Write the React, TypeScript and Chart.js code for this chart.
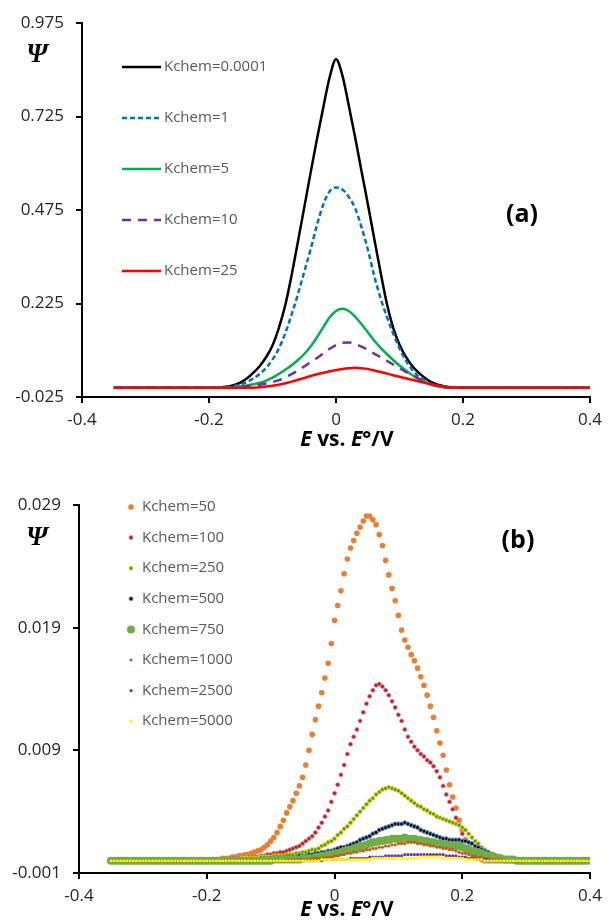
import React, { useEffect, useRef } from "react";
import { Chart, registerables } from "chart.js";
Chart.register(...registerables);

const FONT = "'Open Sans', sans-serif";

// ---------- Top chart (a) ----------
const E_TOP = [
  -0.35, -0.3, -0.25,
  -0.2, -0.19, -0.18, -0.17, -0.16, -0.15, -0.14, -0.13, -0.12, -0.11,
  -0.1, -0.09, -0.08, -0.07, -0.06, -0.05, -0.04, -0.03, -0.02, -0.01,
  0, 0.01, 0.02, 0.03, 0.04, 0.05, 0.06, 0.07, 0.08, 0.09,
  0.1, 0.11, 0.12, 0.13, 0.14, 0.15, 0.16, 0.17, 0.18, 0.19, 0.2,
  0.25, 0.3, 0.35, 0.4,
];
const TOP_LABELS = ["Kchem=0.0001", "Kchem=1", "Kchem=5", "Kchem=10", "Kchem=25"];
const PSI_K0001 = [
  0, 0, 0,
  0, 0, 0.001, 0.003, 0.007, 0.014, 0.025, 0.04, 0.058, 0.082,
  0.113, 0.16, 0.22, 0.3, 0.39, 0.482, 0.575, 0.665, 0.75, 0.83,
  0.878, 0.835, 0.755, 0.67, 0.58, 0.492, 0.4, 0.31, 0.225, 0.16,
  0.115, 0.082, 0.058, 0.04, 0.026, 0.015, 0.008, 0.004, 0.001, 0, 0,
  0, 0, 0, 0,
];
const PSI_K1 = [
  0, 0, 0,
  0, 0, 0.001, 0.002, 0.005, 0.009, 0.015, 0.025, 0.037, 0.053,
  0.075, 0.105, 0.145, 0.195, 0.25, 0.31, 0.37, 0.435, 0.49, 0.525,
  0.535, 0.53, 0.51, 0.48, 0.43, 0.37, 0.3, 0.24, 0.19, 0.145,
  0.105, 0.072, 0.048, 0.03, 0.018, 0.01, 0.005, 0.002, 0, 0, 0,
  0, 0, 0, 0,
];
const PSI_K5 = [
  0, 0, 0,
  0, 0, 0, 0.001, 0.002, 0.004, 0.006, 0.009, 0.013, 0.019,
  0.027, 0.037, 0.048, 0.06, 0.074, 0.09, 0.11, 0.135, 0.162, 0.188,
  0.205, 0.211, 0.205, 0.19, 0.17, 0.148, 0.126, 0.107, 0.09, 0.074,
  0.059, 0.046, 0.034, 0.024, 0.015, 0.008, 0.004, 0.001, 0, 0, 0,
  0, 0, 0, 0,
];
const PSI_K10 = [
  0, 0, 0,
  0, 0, 0, 0, 0.001, 0.002, 0.004, 0.006, 0.008, 0.011,
  0.015, 0.02, 0.027, 0.036, 0.046, 0.057, 0.068, 0.079, 0.092, 0.104,
  0.114, 0.12, 0.121, 0.117, 0.11, 0.101, 0.091, 0.082, 0.072, 0.062,
  0.052, 0.042, 0.033, 0.024, 0.016, 0.009, 0.004, 0.001, 0, 0, 0,
  0, 0, 0, 0,
];
const PSI_K25 = [
  0, 0, 0,
  0, 0, 0, 0, 0, 0, 0, 0, 0.001, 0.003,
  0.005, 0.008, 0.012, 0.016, 0.021, 0.026, 0.031, 0.036, 0.04, 0.044,
  0.047, 0.05, 0.052, 0.053, 0.052, 0.05, 0.046, 0.042, 0.038, 0.033,
  0.029, 0.025, 0.021, 0.017, 0.013, 0.009, 0.006, 0.003, 0.001, 0, 0,
  0, 0, 0, 0,
];
const TOP_Y_TICKS = [-0.025, 0.225, 0.475, 0.725, 0.975];
const TOP_Y_TICK_LABELS = ["-0.025", "0.225", "0.475", "0.725", "0.975"];
const X_TICKS = [-0.4, -0.2, 0, 0.2, 0.4];
const X_TICK_LABELS = ["-0.4", "-0.2", "0", "0.2", "0.4"];

// ---------- Bottom chart (b) ----------
const E_BOTTOM = [
  -0.35, -0.345, -0.34, -0.335, -0.33, -0.325, -0.32, -0.315, -0.31, -0.305,
  -0.3, -0.295, -0.29, -0.285, -0.28, -0.275, -0.27, -0.265, -0.26, -0.255,
  -0.25, -0.245, -0.24, -0.235, -0.23, -0.225, -0.22, -0.215, -0.21, -0.205,
  -0.2, -0.195, -0.19, -0.185, -0.18, -0.175, -0.17, -0.165, -0.16, -0.155,
  -0.15, -0.145, -0.14, -0.135, -0.13, -0.125, -0.12, -0.115, -0.11, -0.105,
  -0.1, -0.095, -0.09, -0.085, -0.08, -0.075, -0.07, -0.065, -0.06, -0.055,
  -0.05, -0.045, -0.04, -0.035, -0.03, -0.025, -0.02, -0.015, -0.01, -0.005,
  0, 0.005, 0.01, 0.015, 0.02, 0.025, 0.03, 0.035, 0.04, 0.045,
  0.05, 0.055, 0.06, 0.065, 0.07, 0.075, 0.08, 0.085, 0.09, 0.095,
  0.1, 0.105, 0.11, 0.115, 0.12, 0.125, 0.13, 0.135, 0.14, 0.145,
  0.15, 0.155, 0.16, 0.165, 0.17, 0.175, 0.18, 0.185, 0.19, 0.195,
  0.2, 0.205, 0.21, 0.215, 0.22, 0.225, 0.23, 0.235, 0.24, 0.245,
  0.25, 0.255, 0.26, 0.265, 0.27, 0.275, 0.28, 0.285, 0.29, 0.295,
  0.3, 0.305, 0.31, 0.315, 0.32, 0.325, 0.33, 0.335, 0.34, 0.345,
  0.35, 0.355, 0.36, 0.365, 0.37, 0.375, 0.38, 0.385, 0.39, 0.395,
  0.4,
];
// values in units of 1e-4
const BOTTOM_UNIT = 1e-4;
const BOTTOM_LABELS = [
  "Kchem=50", "Kchem=100", "Kchem=250", "Kchem=500",
  "Kchem=750", "Kchem=1000", "Kchem=2500", "Kchem=5000",
];
const PSI_K50 = [
  0, 0, 0, 0, 0, 0, 0, 0, 0, 0,
  0, 0, 0, 0, 0, 0, 0, 0, 0, 0,
  0, 0, 0, 0, 0, 0, 0, 0, 0, 0,
  0, 0, 1, 1, 1, 2, 2, 2, 3, 3,
  4, 4, 5, 5, 6, 7, 8, 9, 11, 13,
  16, 19, 23, 28, 33, 39, 44, 49, 55, 61,
  68, 78, 90, 103, 115, 126, 137, 149, 161, 177,
  196, 208, 220, 234, 246, 255, 261, 267, 272, 277,
  281, 281, 278, 274, 266, 257, 245, 233, 222, 212,
  200, 188, 180, 174, 168, 163, 157, 150, 143, 135,
  126, 117, 106, 96, 86, 74, 62, 52, 43, 33,
  25, 17, 11, 7, 4, 2, 1, 0, 0, 0,
  0, 0, 0, 0, 0, 0, 0, 0, 0, 0,
  0, 0, 0, 0, 0, 0, 0, 0, 0, 0,
  0, 0, 0, 0, 0, 0, 0, 0, 0, 0,
  0,
];
const PSI_K100 = [
  0, 0, 0, 0, 0, 0, 0, 0, 0, 0,
  0, 0, 0, 0, 0, 0, 0, 0, 0, 0,
  0, 0, 0, 0, 0, 0, 0, 0, 0, 0,
  0, 0, 1, 1, 1, 1, 1, 1, 2, 2,
  2, 2, 2, 3, 3, 3, 3, 4, 4, 5,
  5, 6, 6, 7, 7, 8, 9, 10, 11, 12,
  14, 16, 18, 20, 23, 27, 31, 36, 41, 48,
  55, 62, 70, 78, 87, 95, 101, 107, 114, 121,
  128, 134, 139, 143, 144, 142, 139, 135, 130, 125,
  119, 114, 107, 101, 97, 93, 90, 87, 85, 82,
  80, 77, 73, 68, 61, 54, 48, 42, 35, 29,
  22, 16, 11, 7, 4, 2, 1, 0, 0, 0,
  0, 0, 0, 0, 0, 0, 0, 0, 0, 0,
  0, 0, 0, 0, 0, 0, 0, 0, 0, 0,
  0, 0, 0, 0, 0, 0, 0, 0, 0, 0,
  0,
];
const PSI_K250 = [
  0, 0, 0, 0, 0, 0, 0, 0, 0, 0,
  0, 0, 0, 0, 0, 0, 0, 0, 0, 0,
  0, 0, 0, 0, 0, 0, 0, 0, 0, 0,
  0, 0, 0, 1, 1, 1, 1, 1, 1, 1,
  1, 2, 2, 2, 2, 2, 2, 3, 3, 3,
  3, 4, 4, 4, 4, 5, 5, 5, 6, 6,
  7, 7, 8, 9, 9, 10, 12, 13, 15, 16,
  18, 21, 23, 26, 28, 31, 34, 37, 40, 43,
  46, 49, 51, 54, 56, 58, 59, 60, 59, 58,
  57, 55, 53, 51, 49, 47, 45, 44, 42, 41,
  39, 38, 36, 35, 34, 33, 32, 31, 30, 29,
  27, 25, 22, 19, 16, 14, 11, 9, 7, 6,
  5, 4, 3, 2, 2, 1, 1, 0, 0, 0,
  0, 0, 0, 0, 0, 0, 0, 0, 0, 0,
  0, 0, 0, 0, 0, 0, 0, 0, 0, 0,
  0,
];
const PSI_K500 = [
  0, 0, 0, 0, 0, 0, 0, 0, 0, 0,
  0, 0, 0, 0, 0, 0, 0, 0, 0, 0,
  0, 0, 0, 0, 0, 0, 0, 0, 0, 0,
  0, 0, 0, 0, 0, 0, 0, 0, 0, 0,
  0, 0, 1, 1, 1, 1, 1, 1, 1, 1,
  2, 2, 2, 2, 2, 3, 3, 3, 3, 4,
  4, 4, 5, 5, 6, 6, 7, 7, 8, 8,
  9, 10, 11, 11, 12, 13, 14, 15, 17, 18,
  19, 20, 22, 23, 25, 26, 27, 28, 29, 30,
  30, 30, 31, 30, 29, 28, 27, 25, 24, 23,
  22, 21, 20, 19, 18, 18, 17, 17, 17, 17,
  16, 16, 15, 14, 12, 11, 9, 8, 7, 5,
  4, 3, 3, 2, 1, 1, 0, 0, 0, 0,
  0, 0, 0, 0, 0, 0, 0, 0, 0, 0,
  0, 0, 0, 0, 0, 0, 0, 0, 0, 0,
  0,
];
const PSI_K750 = [
  0, 0, 0, 0, 0, 0, 0, 0, 0, 0,
  0, 0, 0, 0, 0, 0, 0, 0, 0, 0,
  0, 0, 0, 0, 0, 0, 0, 0, 0, 0,
  0, 0, 0, 0, 0, 0, 0, 0, 0, 0,
  0, 0, 0, 0, 0, 0, 0, 0, 0, 0,
  0, 1, 1, 1, 1, 1, 1, 1, 1, 1,
  2, 2, 2, 2, 3, 3, 4, 4, 5, 5,
  6, 6, 7, 8, 9, 9, 10, 11, 12, 12,
  13, 14, 15, 15, 16, 16, 17, 17, 18, 18,
  18, 18, 19, 18, 18, 18, 17, 17, 16, 16,
  15, 15, 14, 14, 13, 13, 13, 12, 12, 12,
  11, 10, 9, 8, 7, 7, 6, 5, 4, 4,
  3, 2, 2, 1, 1, 1, 1, 0, 0, 0,
  0, 0, 0, 0, 0, 0, 0, 0, 0, 0,
  0, 0, 0, 0, 0, 0, 0, 0, 0, 0,
  0,
];
const PSI_K1000 = [
  0, 0, 0, 0, 0, 0, 0, 0, 0, 0,
  0, 0, 0, 0, 0, 0, 0, 0, 0, 0,
  0, 0, 0, 0, 0, 0, 0, 0, 0, 0,
  0, 0, 0, 0, 0, 0, 0, 0, 0, 0,
  0, 0, 0, 0, 0, 0, 0, 0, 0, 0,
  0, 0, 0, 0, 0, 1, 1, 1, 1, 1,
  1, 1, 1, 2, 2, 2, 2, 3, 3, 3,
  4, 4, 5, 5, 6, 6, 7, 7, 8, 8,
  9, 9, 10, 10, 11, 11, 12, 12, 13, 13,
  14, 14, 14, 15, 15, 15, 14, 14, 13, 13,
  12, 12, 11, 11, 10, 10, 9, 9, 8, 7,
  6, 6, 5, 4, 4, 3, 3, 2, 2, 1,
  1, 1, 1, 0, 0, 0, 0, 0, 0, 0,
  0, 0, 0, 0, 0, 0, 0, 0, 0, 0,
  0, 0, 0, 0, 0, 0, 0, 0, 0, 0,
  0,
];
const PSI_K2500 = [
  0, 0, 0, 0, 0, 0, 0, 0, 0, 0,
  0, 0, 0, 0, 0, 0, 0, 0, 0, 0,
  0, 0, 0, 0, 0, 0, 0, 0, 0, 0,
  0, 0, 0, 0, 0, 0, 0, 0, 0, 0,
  0, 0, 0, 0, 0, 0, 0, 0, 0, 0,
  0, 0, 0, 0, 0, 0, 0, 0, 0, 0,
  0, 0, 0, 0, 0, 0, 0, 1, 1, 1,
  1, 1, 1, 1, 1, 2, 2, 2, 2, 2,
  2, 3, 3, 3, 3, 3, 4, 4, 4, 4,
  4, 4, 5, 5, 5, 5, 5, 5, 5, 5,
  5, 5, 5, 5, 5, 4, 4, 4, 4, 3,
  3, 3, 2, 2, 2, 1, 1, 1, 1, 0,
  0, 0, 0, 0, 0, 0, 0, 0, 0, 0,
  0, 0, 0, 0, 0, 0, 0, 0, 0, 0,
  0, 0, 0, 0, 0, 0, 0, 0, 0, 0,
  0,
];
const PSI_K5000 = [
  0, 0, 0, 0, 0, 0, 0, 0, 0, 0,
  0, 0, 0, 0, 0, 0, 0, 0, 0, 0,
  0, 0, 0, 0, 0, 0, 0, 0, 0, 0,
  0, 0, 0, 0, 0, 0, 0, 0, 0, 0,
  0, 0, 0, 0, 0, 0, 0, 0, 0, 0,
  0, 0, 0, 0, 0, 0, 0, 0, 0, 0,
  0, 0, 0, 0, 0, 0, 1, 1, 1, 1,
  1, 1, 1, 1, 1, 1, 1, 1, 1, 1,
  1, 1, 2, 2, 2, 2, 2, 2, 2, 2,
  2, 2, 2, 2, 2, 2, 2, 3, 3, 3,
  3, 3, 3, 3, 2, 2, 2, 2, 2, 2,
  2, 1, 1, 1, 1, 1, 1, 0, 0, 0,
  0, 0, 0, 0, 0, 0, 0, 0, 0, 0,
  0, 0, 0, 0, 0, 0, 0, 0, 0, 0,
  0, 0, 0, 0, 0, 0, 0, 0, 0, 0,
  0,
];
const BOTTOM_Y_TICKS = [-0.001, 0.009, 0.019, 0.029];
const BOTTOM_Y_TICK_LABELS = ["-0.001", "0.009", "0.019", "0.029"];

type Overlay = {
  kind: "line" | "point";
  legendX0: number;
  legendX1: number;
  legendTextX: number;
  legendY: number;
  legendGap: number;
  psiX: number;
  psiY: number;
  tag: string;
  tagX: number;
  tagY: number;
  titleX: number;
  titleY: number;
};

function drawAxisTitle(ctx: CanvasRenderingContext2D, cx: number, cy: number) {
  const size = 21;
  const parts: [string, boolean][] = [["E", true], [" vs. ", false], ["E", true], ["°/V", false]];
  let total = 0;
  const widths = parts.map(([t, it]) => {
    ctx.font = `${it ? "italic " : ""}bold ${size}px ${FONT}`;
    const w = ctx.measureText(t).width;
    total += w;
    return w;
  });
  let x = cx - total / 2;
  ctx.fillStyle = "#000";
  ctx.textAlign = "left";
  ctx.textBaseline = "middle";
  parts.forEach(([t, it], i) => {
    ctx.font = `${it ? "italic " : ""}bold ${size}px ${FONT}`;
    ctx.fillText(t, x, cy);
    x += widths[i];
  });
}

function makeOverlayPlugin(o: Overlay) {
  return {
    id: "overlay",
    afterDraw(chart: any) {
      const ctx: CanvasRenderingContext2D = chart.ctx;
      ctx.save();
      chart.data.datasets.forEach((ds: any, i: number) => {
        const y = o.legendY + i * o.legendGap;
        if (o.kind === "line") {
          ctx.beginPath();
          ctx.setLineDash(ds.borderDash || []);
          ctx.strokeStyle = ds.borderColor;
          ctx.lineWidth = ds.borderWidth;
          ctx.moveTo(o.legendX0, y);
          ctx.lineTo(o.legendX1, y);
          ctx.stroke();
          ctx.setLineDash([]);
        } else {
          ctx.beginPath();
          ctx.arc(o.legendX0, y, ds.pointRadius, 0, Math.PI * 2);
          ctx.fillStyle = ds.pointBackgroundColor;
          ctx.fill();
          if (ds.pointBorderWidth) {
            ctx.lineWidth = ds.pointBorderWidth;
            ctx.strokeStyle = ds.pointBorderColor;
            ctx.stroke();
          }
        }
        ctx.font = `15px ${FONT}`;
        ctx.fillStyle = "#595959";
        ctx.textAlign = "left";
        ctx.textBaseline = "middle";
        ctx.fillText(ds.label, o.legendTextX, y);
      });
      ctx.font = "italic bold 27px 'Liberation Serif'";
      ctx.fillStyle = "#000";
      ctx.textAlign = "center";
      ctx.textBaseline = "middle";
      ctx.fillText("Ψ", o.psiX, o.psiY);
      ctx.font = `bold 25px ${FONT}`;
      ctx.fillText(o.tag, o.tagX, o.tagY);
      drawAxisTitle(ctx, o.titleX, o.titleY);
      ctx.restore();
    },
  };
}

function axes(yMin: number, yMax: number, yTicks: number[], yLabels: string[], yWidth: number, xHeight: number) {
  const tickFont = { family: FONT, size: 17 };
  return {
    x: {
      type: "linear",
      min: -0.4,
      max: 0.4,
      afterBuildTicks: (s: any) => {
        s.ticks = X_TICKS.map((v) => ({ value: v }));
      },
      afterFit: (s: any) => {
        s.height = xHeight;
      },
      border: { color: "#000", width: 2 },
      grid: { drawOnChartArea: false, drawTicks: true, tickLength: 6, color: "#000", lineWidth: 2 },
      ticks: {
        autoSkip: false,
        maxRotation: 0,
        padding: 7,
        color: "#262626",
        font: tickFont,
        callback: (_v: any, i: number) => X_TICK_LABELS[i],
      },
    },
    y: {
      type: "linear",
      min: yMin,
      max: yMax,
      afterBuildTicks: (s: any) => {
        s.ticks = yTicks.map((v) => ({ value: v }));
      },
      afterFit: (s: any) => {
        s.width = yWidth;
      },
      border: { color: "#000", width: 2 },
      grid: { drawOnChartArea: false, drawTicks: true, tickLength: 6, color: "#000", lineWidth: 2 },
      ticks: {
        autoSkip: false,
        padding: 12,
        color: "#262626",
        font: tickFont,
        callback: (_v: any, i: number) => yLabels[i],
      },
    },
  };
}

function TopChart() {
  const ref = useRef<HTMLCanvasElement>(null);
  useEffect(() => {
    const series = [PSI_K0001, PSI_K1, PSI_K5, PSI_K10, PSI_K25];
    const colors = ["#000000", "#0070C0", "#00B050", "#7030A0", "#FF0000"];
    const dashes = [[], [5, 3], [], [9, 7], []];
    const datasets = series.map((s, i) => ({
      label: TOP_LABELS[i],
      data: E_TOP.map((x, j) => ({ x, y: s[j] })),
      borderColor: colors[i],
      backgroundColor: colors[i],
      borderWidth: 2.5,
      borderDash: dashes[i],
      pointRadius: 0,
      cubicInterpolationMode: "monotone",
      fill: false,
      order: series.length - i,
    }));
    const chart = new Chart(ref.current!, {
      type: "line",
      data: { datasets } as any,
      options: {
        responsive: false,
        animation: false,
        devicePixelRatio: 1,
        layout: { padding: { top: 23, right: 15, left: 0, bottom: 0 } },
        plugins: { legend: { display: false }, tooltip: { enabled: false } },
        scales: axes(-0.025, 0.975, TOP_Y_TICKS, TOP_Y_TICK_LABELS, 82, 63) as any,
      },
      plugins: [
        makeOverlayPlugin({
          kind: "line",
          legendX0: 122,
          legendX1: 161,
          legendTextX: 164,
          legendY: 67,
          legendGap: 51,
          psiX: 37,
          psiY: 55,
          tag: "(a)",
          tagX: 522,
          tagY: 215,
          titleX: 347,
          titleY: 440,
        }),
      ],
    });
    return () => chart.destroy();
  }, []);
  return <canvas ref={ref} width={609} height={460} style={{ display: "block" }} />;
}

function BottomChart() {
  const ref = useRef<HTMLCanvasElement>(null);
  useEffect(() => {
    const series = [PSI_K50, PSI_K100, PSI_K250, PSI_K500, PSI_K750, PSI_K1000, PSI_K2500, PSI_K5000];
    const styles = [
      { bg: "#ED7D31", bc: "#ED7D31", bw: 0, r: 2.8 },
      { bg: "#FF0000", bc: "rgba(150,160,175,0.85)", bw: 1, r: 2 },
      { bg: "#3C9A3C", bc: "#FFD000", bw: 1, r: 2 },
      { bg: "#000000", bc: "#5B9BD5", bw: 1, r: 2 },
      { bg: "#70AD47", bc: "#70AD47", bw: 0, r: 4 },
      { bg: "#C55A11", bc: "#C55A11", bw: 0, r: 1.6 },
      { bg: "#7030A0", bc: "#7030A0", bw: 0, r: 1.6 },
      { bg: "#FFFF00", bc: "#FFFF00", bw: 0, r: 1.6 },
    ];
    const datasets = series.map((s, i) => ({
      label: BOTTOM_LABELS[i],
      data: E_BOTTOM.map((x, j) => ({ x, y: s[j] * BOTTOM_UNIT })),
      showLine: false,
      pointStyle: "circle",
      pointRadius: styles[i].r,
      pointBackgroundColor: styles[i].bg,
      pointBorderColor: styles[i].bc,
      pointBorderWidth: styles[i].bw,
      backgroundColor: styles[i].bg,
      borderColor: styles[i].bc,
      order: series.length - i,
    }));
    const chart = new Chart(ref.current!, {
      type: "scatter",
      data: { datasets } as any,
      options: {
        responsive: false,
        animation: false,
        devicePixelRatio: 1,
        layout: { padding: { top: 45, right: 15, left: 0, bottom: 0 } },
        plugins: { legend: { display: false }, tooltip: { enabled: false } },
        scales: axes(-0.001, 0.029, BOTTOM_Y_TICKS, BOTTOM_Y_TICK_LABELS, 79, 47) as any,
      },
      plugins: [
        makeOverlayPlugin({
          kind: "point",
          legendX0: 131,
          legendX1: 131,
          legendTextX: 142,
          legendY: 47,
          legendGap: 30.6,
          psiX: 37,
          psiY: 78,
          tag: "(b)",
          tagX: 518,
          tagY: 81,
          titleX: 347,
          titleY: 450,
        }),
      ],
    });
    return () => chart.destroy();
  }, []);
  return <canvas ref={ref} width={609} height={460} style={{ display: "block" }} />;
}

export default function App() {
  return (
    <div style={{ position: "absolute", left: 0, top: 0, width: 609, height: 920, background: "#fff" }}>
      <TopChart />
      <BottomChart />
    </div>
  );
}
